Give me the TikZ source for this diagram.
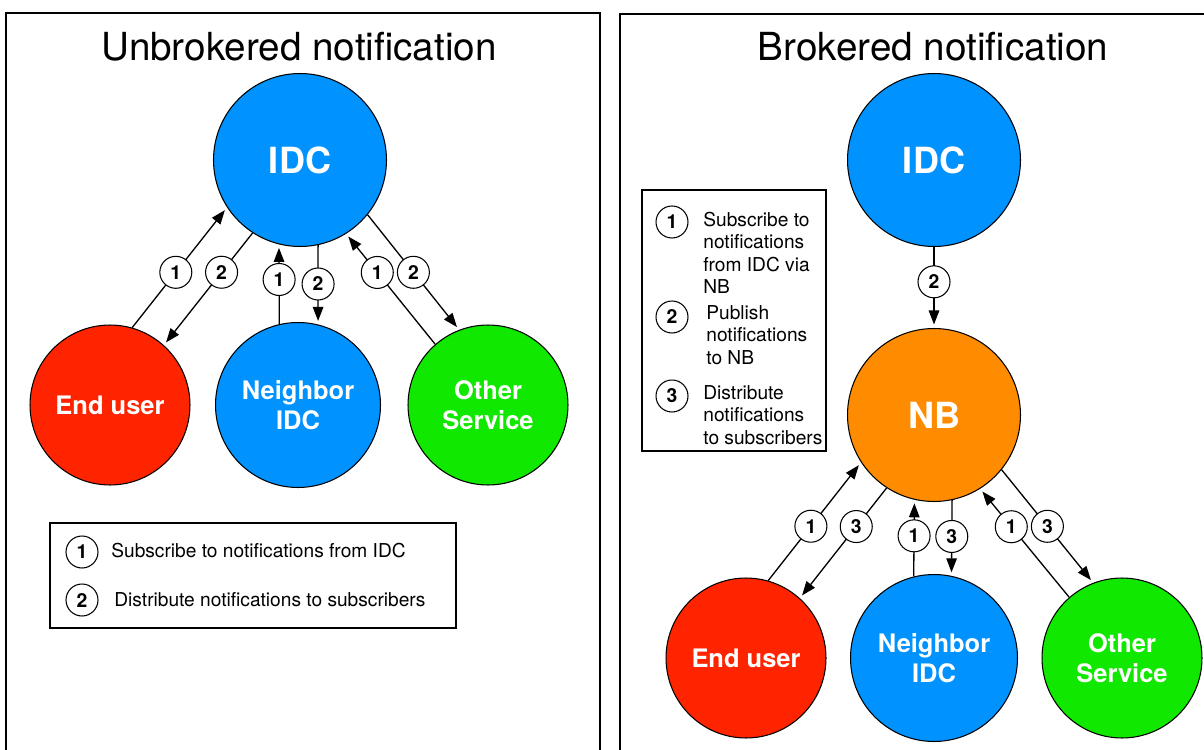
\documentclass[tikz,border=0pt]{standalone}
\usepackage{fontspec}
\setmainfont{TeX Gyre Heros}
\usetikzlibrary{arrows.meta}

\definecolor{idcblue}{RGB}{0,146,255}
\definecolor{userred}{RGB}{255,36,0}
\definecolor{servgreen}{RGB}{16,232,0}
\definecolor{nborange}{RGB}{255,140,0}

\begin{document}
\begin{tikzpicture}[x=0.02cm, y=-0.02cm, >={Triangle[length=2.8mm, width=2.1mm]}]
	\tikzstyle{site} = [draw, circle, line width=0.6pt, inner sep=0pt, text=white, align=center, font=\bfseries\fontsize{14.5}{17}\selectfont]
	\tikzstyle{hub} = [site, minimum size=3.46cm, font=\bfseries\fontsize{20.5}{24}\selectfont]
	\tikzstyle{num} = [draw, circle, fill=white, line width=0.6pt, minimum size=6.4mm, inner sep=0pt, font=\bfseries\fontsize{11}{13}\selectfont]
	\tikzstyle{frame} = [line width=1.7pt]
	\tikzstyle{legend} = [draw, line width=0.75pt]
	\tikzstyle{title} = [font=\fontsize{22}{26}\selectfont]
	\tikzstyle{note} = [anchor=west, align=left, inner sep=0pt, font=\fontsize{10.9}{12.75}\selectfont]

	\path[use as bounding box, clip] (0,0) rectangle (1204,750);

	% unbrokered
	\begin{scope}
		\draw[frame] (6,13) rectangle (600,800);
		\node[title] (head) at (299,47) {Unbrokered notification};

		\node[hub, fill=idcblue] (idc) at (300,160) {IDC};
		\node[site, fill=userred, minimum size=3.2cm] (user) at (110,405) {End user};
		\node[site, fill=idcblue, minimum size=3.3cm] (nbr) at (298,405) {Neighbor\\IDC};
		\node[site, fill=servgreen, minimum size=3.2cm] (other) at (488,405) {Other\\Service};

		\path[->, line width=0.75pt, shorten >=2pt]
			(user.74) edge node[num, pos=0.46] {1} (idc.213)
			(idc.237) edge node[num, pos=0.35] {2} (user.48)
			(nbr.103) edge node[num, pos=0.56] {1} (idc.256)
			(idc.282) edge node[num, pos=0.49] {2} (nbr.76)
			(other.131) edge node[num, pos=0.65] {1} (idc.302)
			(idc.321) edge node[num, pos=0.5] {2} (other.111)
		;

		\draw[legend] (50,523) rectangle (456,628);
		\node[num] (k1) at (82,552) {1};
		\node[note] (t1) at (111,551) {Subscribe to notifications from IDC};
		\node[num] (k2) at (82,600) {2};
		\node[note] (t2) at (114,600) {Distribute notifications to subscribers};
	\end{scope}

	% brokered
	\begin{scope}
		\draw[frame] (620,14) rectangle (1260,800);
		\node[title] (head) at (933,47) {Brokered notification};

		\node[hub, fill=idcblue] (idc) at (934,160) {IDC};
		\node[hub, fill=nborange] (nb) at (934,415) {NB};
		\node[site, fill=userred, minimum size=3.2cm] (user) at (746,658) {End user};
		\node[site, fill=idcblue, minimum size=3.34cm] (nbr) at (934,658) {Neighbor\\IDC};
		\node[site, fill=servgreen, minimum size=3.2cm] (other) at (1122,658) {Other\\Service};

		\path[->, line width=0.75pt, shorten >=2pt]
			(idc.south) edge node[num, pos=0.43] {2} (nb.north)
			(user.74) edge node[num, pos=0.46] {1} (nb.213)
			(nb.237) edge node[num, pos=0.35] {3} (user.48)
			(nbr.104) edge node[num, pos=0.53] {1} (nb.257)
			(nb.282) edge node[num, pos=0.48] {3} (nbr.78)
			(other.131) edge node[num, pos=0.65] {1} (nb.302)
			(nb.321) edge node[num, pos=0.5] {3} (other.111)
		;

		\draw[legend] (642,190) rectangle (826,451);
		\node[num] (k1) at (672,222) {1};
		\node[note] (t1) at (703,253) {Subscribe to\\notifications\\from IDC via\\NB};
		\node[num] (k2) at (672,317) {2};
		\node[note] (t2) at (706,335) {Publish\\notifications\\to NB};
		\node[num] (k3) at (672,396) {3};
		\node[note] (t3) at (703,415) {Distribute\\notifications\\to subscribers};
	\end{scope}
\end{tikzpicture}
\end{document}
